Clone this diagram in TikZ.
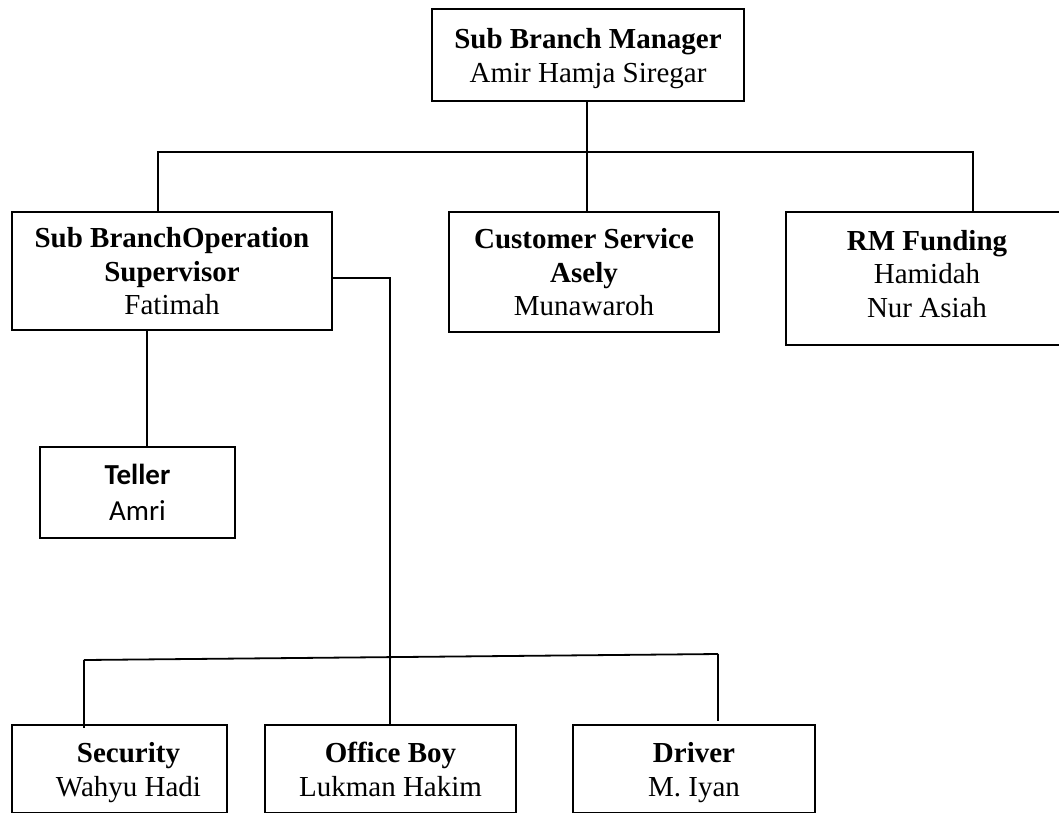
\documentclass[tikz,border=0pt]{standalone}
\usepackage{fontspec}
\setmainfont{Liberation Serif}
\newfontfamily\calibri{Carlito}
\begin{document}
\begin{tikzpicture}[x=1pt,y=-1pt,
  box/.style={draw, line width=1.8pt, inner sep=0pt, align=center,
    text depth=0pt, font=\fontsize{29}{33.5}\selectfont},
  twolines/.style={text height=54pt, font=\fontsize{29}{34}\selectfont},
  threelines/.style={text height=87pt},
  link/.style={line width=1.8pt}]
\useasboundingbox (0,0) rectangle (1059,812);
\node[box, twolines, minimum width=312, minimum height=92] (mgr) at (588,55)
  {\textbf{Sub Branch Manager}\\Amir Hamja Siregar};
\node[box, threelines, minimum width=320, minimum height=118] (sup) at (172,271)
  {\textbf{Sub BranchOperation}\\\textbf{Supervisor}\\Fatimah};
\node[box, threelines, minimum width=270, minimum height=120] (cs) at (584,272)
  {\textbf{Customer Service}\\\textbf{Asely}\\Munawaroh};
\node[box, threelines, minimum width=282, minimum height=133, text depth=10pt] (rm) at (927,278.5)
  {\textbf{RM Funding}\\Hamidah\\Nur Asiah};
\node[box, minimum width=195, minimum height=91, text height=56pt,
  font=\calibri\fontsize{29}{36}\selectfont] (tl) at (137.5,492.5)
  {\textbf{Teller}\\Amri};
\node[box, twolines, minimum width=215, minimum height=88] (sec) at (119.5,769)
  {\hspace*{18pt}\textbf{Security}\\\hspace*{18pt}Wahyu Hadi};
\node[box, twolines, minimum width=251, minimum height=88] (ob) at (390.5,769)
  {\textbf{Office Boy}\\Lukman Hakim};
\node[box, twolines, minimum width=242, minimum height=88] (drv) at (694,769)
  {\textbf{Driver}\\M. Iyan};
% top level connectors
\coordinate (jm) at (587,152);
\coordinate (jl) at (158,152);
\coordinate (jr) at (973,152);
\draw[link] (mgr.south -| jm) -- (jm |- cs.north);
\draw[link] (jl |- sup.north) -- (jl) -- (jr) -- (jr |- rm.north);
% supervisor to teller
\coordinate (jt) at (147,0);
\draw[link] (jt |- sup.south) -- (jt |- tl.north);
% supervisor to bottom row
\coordinate (jb) at (390,278);
\coordinate (bm) at (390,658);
\coordinate (bl) at (84,660);
\coordinate (br) at (718,654);
\draw[link] (sup.east |- jb) -- (jb) -- (bm);
\draw[link] (bl) -- (br);
\draw[link] (bl) -- ([yshift=-4pt]bl |- sec.north);
\draw[link] (bm) -- (bm |- ob.north);
\draw[link] (br) -- ([yshift=3pt]br |- drv.north);
\end{tikzpicture}
\end{document}
